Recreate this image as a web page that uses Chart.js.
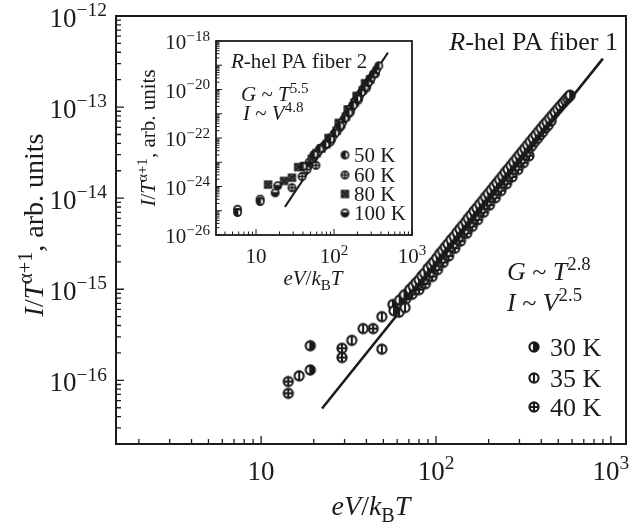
<!DOCTYPE html>
<html>
<head>
<meta charset="utf-8">
<script src="https://cdn.jsdelivr.net/npm/chart.js@4.4.1/dist/chart.umd.min.js"></script>
<style>
  body { margin: 0; background: #fff; }
  #wrap { position: relative; width: 635px; height: 523px; }
  canvas { position: absolute; }
</style>
</head>
<body>
<div id="wrap">
  <canvas id="mainChart" width="635" height="523" style="left:0;top:0"></canvas>
  <canvas id="insetChart" width="300" height="270" style="left:130px;top:25px"></canvas>
</div>
<script>
// ---- main panel: R-hel PA fiber 1 ----
const k30X = [19.1, 19.1, 56.7, 57.5,
  62, 66, 71, 74, 77, 80, 83, 86, 90, 94, 97, 101, 105, 109, 113, 117, 122, 127, 132, 137,
  142, 148, 153, 159, 165, 171, 178, 185, 192, 199, 207, 215, 223, 231, 240, 249, 258, 268, 278, 289,
  300, 311, 322, 334, 346, 359, 372, 386, 400, 415, 430, 446, 462, 479, 496, 514, 532, 550, 565, 578, 585];
const k30Y = [2.4e-16, 1.3e-16, 6.8e-16, 5.8e-16,
  7.6e-16, 8.7e-16, 1.0e-15, 1.08e-15, 1.18e-15, 1.27e-15, 1.4e-15, 1.5e-15, 1.7e-15, 1.85e-15, 2.0e-15, 2.2e-15, 2.45e-15, 2.65e-15, 2.9e-15, 3.15e-15, 3.5e-15, 3.8e-15, 4.2e-15, 4.6e-15,
  5.0e-15, 5.5e-15, 6.0e-15, 6.55e-15, 7.2e-15, 7.8e-15, 8.6e-15, 9.4e-15, 1.03e-14, 1.12e-14, 1.23e-14, 1.35e-14, 1.47e-14, 1.6e-14, 1.75e-14, 1.92e-14, 2.08e-14, 2.28e-14, 2.48e-14, 2.72e-14,
  2.98e-14, 3.24e-14, 3.52e-14, 3.84e-14, 4.18e-14, 4.55e-14, 4.95e-14, 5.4e-14, 5.85e-14, 6.4e-14, 6.9e-14, 7.5e-14, 8.1e-14, 8.8e-14, 9.5e-14, 1.03e-13, 1.11e-13, 1.19e-13, 1.26e-13, 1.32e-13, 1.35e-13];
const k35X = [16.5, 33, 38.3, 49, 49, 61.5, 64.7, 66.5,
  69, 72, 76, 79, 82, 85, 88, 92, 96, 99, 103, 107, 111, 115, 120, 125, 130, 135, 140, 145,
  151, 156, 162, 168, 175, 181, 188, 196, 203, 211, 219, 227, 236, 245, 254, 263, 273, 284,
  295, 306, 317, 329, 341, 353, 366, 380, 393, 408, 423, 438, 455];
const k35Y = [1.12e-16, 2.75e-16, 3.7e-16, 5.0e-16, 2.2e-16, 5.6e-16, 8.1e-16, 6.3e-16,
  9.1e-16, 9.7e-16, 1.1e-15, 1.14e-15, 1.23e-15, 1.28e-15, 1.42e-15, 1.53e-15, 1.72e-15, 1.8e-15, 2.02e-15, 2.17e-15, 2.42e-15, 2.57e-15, 2.92e-15, 3.16e-15, 3.53e-15, 3.78e-15, 4.2e-15, 4.47e-15,
  5.05e-15, 5.35e-15, 5.95e-15, 6.4e-15, 7.15e-15, 7.65e-15, 8.5e-15, 9.25e-15, 1.02e-14, 1.1e-14, 1.22e-14, 1.31e-14, 1.46e-14, 1.58e-14, 1.74e-14, 1.87e-14, 2.07e-14, 2.25e-14,
  2.5e-14, 2.68e-14, 2.97e-14, 3.2e-14, 3.53e-14, 3.78e-14, 4.18e-14, 4.52e-14, 4.93e-14, 5.36e-14, 5.9e-14, 6.35e-14, 7.05e-14];
const k40X = [14.3, 14.3, 29, 29, 43.7,
  67, 73, 80, 87, 95, 102, 110, 118, 128, 138, 150, 161, 173, 187, 202, 218, 235, 253, 272, 294, 316, 340];
const k40Y = [9.7e-17, 7.2e-17, 2.25e-16, 1.78e-16, 3.7e-16,
  7.8e-16, 8.8e-16, 9.9e-16, 1.15e-15, 1.38e-15, 1.64e-15, 1.97e-15, 2.32e-15, 2.82e-15, 3.38e-15, 4.12e-15, 4.9e-15, 5.8e-15, 7.0e-15, 8.4e-15, 1.01e-14, 1.21e-14, 1.44e-14, 1.71e-14, 2.06e-14, 2.45e-14, 2.92e-14];
const fit1X = [22.3, 900];
const fit1Y = [4.9e-17, 3.4e-13];
const mainXExps = [1, 2, 3];
const mainYExps = [-12, -13, -14, -15, -16];

// ---- inset: R-hel PA fiber 2 ----
const i50X = [5.8, 11.3, 40, 55.6, 66, 78, 90, 104, 120, 138, 155, 176, 200, 225, 250, 275, 300, 325, 350, 375];
const i50Y = [8.5e-26, 2.4e-25, 6.8e-24, 2.1e-23, 3.6e-23, 5.4e-23, 8.8e-23, 1.6e-22, 3.2e-22, 6.6e-22, 1.1e-21, 2.2e-21, 4.2e-21, 7.6e-21, 1.25e-20, 1.95e-20, 3.0e-20, 4.4e-20, 6.6e-20, 9.5e-20];
const i60X = [28.9, 39, 45, 58.6, 63, 72, 84, 97, 112, 128, 146, 166, 188, 212, 238, 265, 292, 320,
  90, 120, 160, 205, 260, 340];
const i60Y = [8.9e-25, 2.6e-24, 5e-24, 7.5e-24, 2.8e-23, 4.3e-23, 6.3e-23, 1.2e-22, 2.2e-22, 4.4e-22, 8.6e-22, 1.65e-21, 3.2e-21, 5.6e-21, 9.8e-21, 1.65e-20, 2.7e-20, 4.3e-20,
  7e-23, 2.8e-22, 1.1e-21, 3.7e-21, 1.15e-20, 4.5e-20];
const i80X = [14.3, 22.9, 28.9, 34.7, 52, 60, 69, 80, 93, 108, 124, 142, 162, 184, 208, 234, 262, 290,
  85, 115, 150, 195, 250];
const i80Y = [1.2e-24, 1.7e-24, 2.3e-24, 6.3e-24, 1.4e-23, 2.4e-23, 3.7e-23, 5.6e-23, 1.0e-22, 2.0e-22, 3.8e-22, 7.6e-22, 1.5e-21, 2.9e-21, 5.3e-21, 9.4e-21, 1.6e-20, 2.6e-20,
  9.9e-23, 4.2e-22, 1.5e-21, 5.4e-21, 1.8e-20];
const i100X = [5.8, 11.3, 17.6, 19, 39.8, 48, 56, 66, 76, 88, 101, 116, 133, 152, 174, 198, 224, 252, 280];
const i100Y = [1.15e-25, 3.0e-25, 5.5e-25, 1.08e-24, 6.8e-24, 1.0e-23, 2.0e-23, 3.5e-23, 4.9e-23, 8.2e-23, 1.55e-22, 2.9e-22, 5.6e-22, 1.15e-21, 2.3e-21, 4.2e-21, 7.4e-21, 1.3e-20, 2.1e-20];
const fit2X = [23.5, 492];
const fit2Y = [1.45e-25, 3.3e-19];
const insetXExps = [1, 2, 3];
const insetYExps = [-18, -20, -22, -24, -26];

const FONT = '"Liberation Serif", "Times New Roman", serif';
const INK = '#1b1b1b';

function pts(xs, ys) { return xs.map((x, i) => ({ x: x, y: ys[i] })); }

// little canvases used as point styles
function marker(kind, r, lw) {
  const s = Math.ceil(2 * r + lw + 2), c = document.createElement('canvas');
  c.width = c.height = s;
  const g = c.getContext('2d'), m = s / 2;
  g.lineWidth = lw; g.strokeStyle = INK; g.fillStyle = '#fff';
  if (kind === 'square') {
    g.fillStyle = '#6a6a6a'; g.fillRect(m - r, m - r, 2 * r, 2 * r);
    g.strokeRect(m - r, m - r, 2 * r, 2 * r);
    g.beginPath(); g.moveTo(m - r, m - r); g.lineTo(m + r, m + r); g.moveTo(m + r, m - r); g.lineTo(m - r, m + r); g.stroke();
    return c;
  }
  g.beginPath(); g.arc(m, m, r, 0, 2 * Math.PI); g.fill();
  g.fillStyle = INK;
  if (kind === 'right') { g.beginPath(); g.arc(m, m, r, -Math.PI / 2, Math.PI / 2); g.fill(); }
  if (kind === 'left') { g.beginPath(); g.arc(m, m, r, Math.PI / 2, 3 * Math.PI / 2); g.fill(); }
  if (kind === 'bottom') { g.beginPath(); g.arc(m, m, r, 0, Math.PI); g.fill(); }
  g.beginPath(); g.arc(m, m, r, 0, 2 * Math.PI); g.stroke();
  g.beginPath();
  if (kind === 'vline' || kind === 'cross' || kind === 'right' || kind === 'left') { g.moveTo(m, m - r); g.lineTo(m, m + r); }
  if (kind === 'cross' || kind === 'bottom') { g.moveTo(m - r, m); g.lineTo(m + r, m); }
  g.stroke();
  return c;
}

const mk30 = marker('right', 4.6, 2.1), mk35 = marker('vline', 4.6, 2.1), mk40 = marker('cross', 4.6, 2.1);
const mk50 = marker('left', 3.6, 1.7), mk60 = marker('cross', 3.6, 1.7), mk80 = marker('square', 3.4, 1.5), mk100 = marker('bottom', 3.6, 1.7);

// text with italic / super / sub pieces
function rich(ctx, parts, x, y, align, size) {
  let w = 0;
  const segs = parts.map(p => {
    const t = p[0], st = p[1] || '';
    const small = st.includes('sup') || st.includes('sub');
    const fs = small ? size * 0.72 : size;
    const font = (st.includes('i') ? 'italic ' : '') + fs + 'px ' + FONT;
    ctx.font = font;
    const sw = ctx.measureText(t).width;
    const dy = st.includes('sup') ? -size * 0.4 : (st.includes('sub') ? size * 0.24 : 0);
    w += sw;
    return { t, font, sw, dy };
  });
  let cx = align === 'center' ? x - w / 2 : (align === 'right' ? x - w : x);
  ctx.textAlign = 'left'; ctx.textBaseline = 'alphabetic';
  segs.forEach(s => { ctx.font = s.font; ctx.fillText(s.t, cx, y + s.dy); cx += s.sw; });
}

function powParts(e) { return e === 1 ? [['10', '']] : [['10', ''], [String(e).replace('-', '\u2212'), 'sup']]; }

function logTicks(min, max) {
  const out = [];
  for (let e = Math.floor(Math.log10(min)); e <= Math.ceil(Math.log10(max)); e++) {
    for (let m = 1; m <= 9; m++) {
      const v = m * Math.pow(10, e);
      if (v >= min * 0.999 && v <= max * 1.001) out.push({ v, major: m === 1 });
    }
  }
  return out;
}

function axesPlugin(o) {
  return {
    id: 'axes',
    afterDraw(chart) {
      const ctx = chart.ctx, a = chart.chartArea, xs = chart.scales.x, ys = chart.scales.y;
      ctx.save();
      ctx.strokeStyle = INK; ctx.fillStyle = INK;
      ctx.lineWidth = o.tickWidth;
      ctx.beginPath();
      logTicks(xs.min, xs.max).forEach(t => {
        const px = xs.getPixelForValue(t.v);
        ctx.moveTo(px, a.bottom); ctx.lineTo(px, a.bottom - (t.major ? o.major : o.minor));
      });
      logTicks(ys.min, ys.max).forEach(t => {
        const py = ys.getPixelForValue(t.v);
        ctx.moveTo(a.left, py); ctx.lineTo(a.left + (t.major ? o.major : o.minor), py);
      });
      ctx.stroke();
      ctx.lineWidth = o.frameWidth;
      ctx.strokeRect(a.left, a.top, a.right - a.left, a.bottom - a.top);

      o.xExps.forEach(e => rich(ctx, powParts(e), xs.getPixelForValue(Math.pow(10, e)), a.bottom + o.xLabelDy, 'center', o.tickSize));
      o.yExps.forEach(e => rich(ctx, powParts(e), a.left - o.yLabelGap, ys.getPixelForValue(Math.pow(10, e)) + o.yLabelDy, 'right', o.tickSize));

      rich(ctx, o.xTitle, (a.left + a.right) / 2 + o.xTitleDx, a.bottom + o.xTitleDy, 'center', o.titleSize);
      ctx.save();
      ctx.translate(o.yTitleX, (a.top + a.bottom) / 2 + o.yTitleDy);
      ctx.rotate(-Math.PI / 2);
      rich(ctx, o.yTitle, 0, 0, 'center', o.titleSize);
      ctx.restore();

      o.notes.forEach(n => rich(ctx, n.parts, n.x, n.y, n.align || 'left', n.size));
      o.legend.forEach(l => {
        ctx.drawImage(l.img, l.x - l.img.width / 2, l.y - l.img.height / 2);
        rich(ctx, [[l.text, '']], l.x + o.legendGap, l.y + o.legendSize * 0.33, 'left', o.legendSize);
      });
      ctx.restore();
    }
  };
}

const yTitleParts = [['I', 'i'], ['/', ''], ['T', 'i'], ['\u03b1+1', 'sup'], [', arb. units', '']];
const xTitleParts = [['eV', 'i'], ['/', ''], ['k', 'i'], ['B', 'sub'], ['T', 'i']];

function scatterSet(label, data, img) {
  return { label, data, pointStyle: img, pointRadius: 4, showLine: false, order: 0 };
}
function fitSet(data, w) {
  return { label: 'fit', data, showLine: true, borderColor: INK, borderWidth: w, pointRadius: 0, fill: false, order: 1 };
}

new Chart(document.getElementById('mainChart'), {
  type: 'scatter',
  data: {
    datasets: [
      scatterSet('30 K', pts(k30X, k30Y), mk30),
      scatterSet('35 K', pts(k35X, k35Y), mk35),
      scatterSet('40 K', pts(k40X, k40Y), mk40),
      fitSet(pts(fit1X, fit1Y), 2.6)
    ]
  },
  options: {
    responsive: false, animation: false,
    layout: { padding: { left: 116, top: 16, right: 9, bottom: 79 } },
    plugins: { legend: { display: false }, tooltip: { enabled: false } },
    scales: {
      x: { type: 'logarithmic', min: 1.48, max: 1220, display: false },
      y: { type: 'logarithmic', min: 2.0e-17, max: 1e-12, display: false }
    }
  },
  plugins: [axesPlugin({
    tickWidth: 1.3, major: 8, minor: 5, frameWidth: 2,
    xExps: mainXExps, yExps: mainYExps, tickSize: 27,
    xLabelDy: 36, yLabelGap: 9, yLabelDy: 11,
    titleSize: 28, xTitle: xTitleParts, xTitleDx: 0, xTitleDy: 71,
    yTitle: yTitleParts, yTitleX: 43, yTitleDy: -5,
    notes: [
      { parts: [['R', 'i'], ['-hel PA fiber 1', '']], x: 618, y: 50, align: 'right', size: 26 },
      { parts: [['G', 'i'], [' ~ ', ''], ['T', 'i'], ['2.8', 'sup']], x: 507, y: 280, size: 26 },
      { parts: [['I', 'i'], [' ~ ', ''], ['V', 'i'], ['2.5', 'sup']], x: 507, y: 311, size: 26 }
    ],
    legendGap: 16, legendSize: 26,
    legend: [
      { img: mk30, x: 534, y: 347, text: '30 K' },
      { img: mk35, x: 534, y: 378, text: '35 K' },
      { img: mk40, x: 534, y: 407, text: '40 K' }
    ]
  })]
});

new Chart(document.getElementById('insetChart'), {
  type: 'scatter',
  data: {
    datasets: [
      scatterSet('50 K', pts(i50X, i50Y), mk50),
      scatterSet('60 K', pts(i60X, i60Y), mk60),
      scatterSet('80 K', pts(i80X, i80Y), mk80),
      scatterSet('100 K', pts(i100X, i100Y), mk100),
      fitSet(pts(fit2X, fit2Y), 2)
    ]
  },
  options: {
    responsive: false, animation: false,
    layout: { padding: { left: 86, top: 16, right: 18, bottom: 60 } },
    plugins: { legend: { display: false }, tooltip: { enabled: false } },
    scales: {
      x: { type: 'logarithmic', min: 3.07, max: 1000, display: false },
      y: { type: 'logarithmic', min: 1e-26, max: 1e-18, display: false }
    }
  },
  plugins: [axesPlugin({
    tickWidth: 1, major: 6, minor: 3.5, frameWidth: 1.8,
    xExps: insetXExps, yExps: insetYExps, tickSize: 21,
    xLabelDy: 28, yLabelGap: 6, yLabelDy: 8,
    titleSize: 21, xTitle: xTitleParts, xTitleDx: -1, xTitleDy: 50,
    yTitle: yTitleParts, yTitleX: 25, yTitleDy: 0,
    notes: [
      { parts: [['R', 'i'], ['-hel PA fiber 2', '']], x: 101, y: 43, size: 21 },
      { parts: [['G', 'i'], [' ~ ', ''], ['T', 'i'], ['5.5', 'sup']], x: 111, y: 76, size: 21 },
      { parts: [['I', 'i'], [' ~ ', ''], ['V', 'i'], ['4.8', 'sup']], x: 113, y: 95, size: 21 }
    ],
    legendGap: 9, legendSize: 21,
    legend: [
      { img: mk50, x: 215, y: 130, text: '50 K' },
      { img: mk60, x: 215, y: 150, text: '60 K' },
      { img: mk80, x: 215, y: 169, text: '80 K' },
      { img: mk100, x: 215, y: 188, text: '100 K' }
    ]
  })]
});
</script>
</body>
</html>
